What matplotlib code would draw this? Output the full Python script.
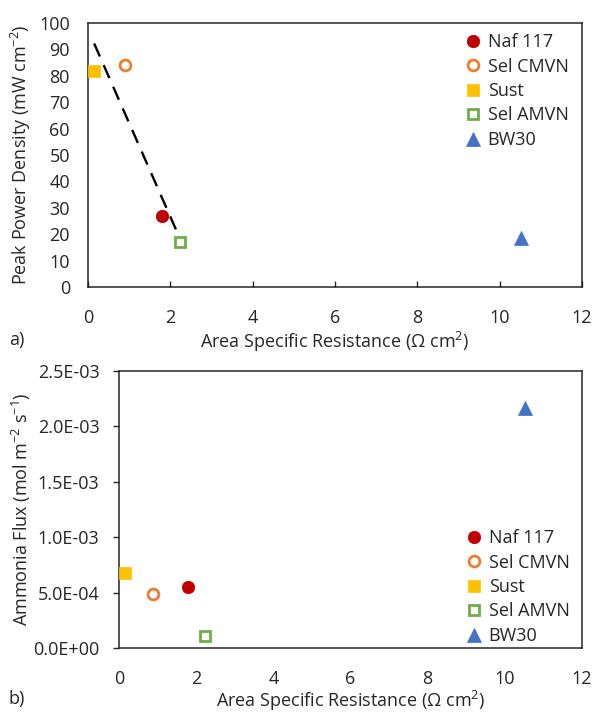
import numpy as np
import matplotlib
matplotlib.use("Agg")
import matplotlib.pyplot as plt
from matplotlib.ticker import FuncFormatter, MultipleLocator

plt.rcParams['font.family'] = ['Open Sans', 'DejaVu Sans']
plt.rcParams['mathtext.fontset'] = 'custom'
plt.rcParams['mathtext.rm'] = 'Open Sans'
plt.rcParams['mathtext.it'] = 'Open Sans:italic'
plt.rcParams['mathtext.bf'] = 'Open Sans:bold'

# ---- data ----
membranes = ["Naf 117", "Sel CMVN", "Sust", "Sel AMVN", "BW30"]
asr = [1.80, 0.89, 0.15, 2.24, 10.53]            # Ohm cm2
peak_power = [27, 84, 82, 17, 18.5]              # mW cm-2
ammonia_flux = [5.48e-4, 4.85e-4, 6.74e-4, 1.11e-4, 2.17e-3]  # mol m-2 s-1
trend_members = ["Naf 117", "Sel CMVN", "Sust", "Sel AMVN"]

colors = ["#C00000", "#ED7D31", "#FFC000", "#70AD47", "#4472C4"]
markers = ["o", "o", "s", "s", "^"]
filled = [True, False, True, False, True]

W, H = 593, 712
fig = plt.figure(figsize=(W / 100, H / 100), dpi=100)

def fx(px):
    return px / W

def fy(py):
    return 1 - py / H

ax1 = fig.add_axes([fx(88), fy(287), fx(582 - 88), (287 - 23) / H])
ax2 = fig.add_axes([fx(119), fy(648), fx(582 - 119), (648 - 371) / H])

fs = 13
text_color = "#262626"

def draw_points(ax, yvals):
    for name, x, y, c, m, f in zip(membranes, asr, yvals, colors, markers, filled):
        if f:
            ms = 9 if m == "o" else (9 if m == "s" else 9.5)
            ax.plot([x], [y], linestyle="none", marker=m, markersize=ms,
                    markerfacecolor=c, markeredgecolor=c, markeredgewidth=0.5,
                    label=name, zorder=3)
        else:
            ax.plot([x], [y], linestyle="none", marker=m, markersize=7.8,
                    markerfacecolor="white", markeredgecolor=c, markeredgewidth=2.0,
                    label=name, zorder=3)

# ---- top panel ----
draw_points(ax1, peak_power)
idx = [membranes.index(n) for n in trend_members]
tx = np.array([asr[i] for i in idx])
ty = np.array([peak_power[i] for i in idx])
k, b = np.polyfit(tx, ty, 1)
xl = np.array([tx.min(), tx.max()])
ax1.plot(xl, k * xl + b, linestyle=(0, (6, 4)), color="black", linewidth=1.7, zorder=2)

ax1.set_xlim(0, 12)
ax1.set_ylim(0, 100)
ax1.xaxis.set_major_locator(MultipleLocator(2))
ax1.yaxis.set_major_locator(MultipleLocator(10))
ax1.tick_params(axis="x", direction="in", length=4, width=1.0, labelsize=fs,
                colors=text_color, pad=16)
ax1.tick_params(axis="y", length=0, labelsize=fs, colors=text_color, pad=13)
ax1.set_xlabel("Area Specific Resistance (Ω cm$^{2}$)", fontsize=fs, color=text_color)
ax1.set_ylabel("Peak Power Density (mW cm$^{-2}$)", fontsize=fs, color=text_color)
ax1.xaxis.set_label_coords(0.5, (287 - 342) / 264)
ax1.xaxis.label.set_va("center")
ax1.yaxis.set_label_coords((21 - 88) / 494, 0.5)
ax1.yaxis.label.set_va("center")
ax1.legend(loc="upper left", bbox_to_anchor=((466 - 88) / 494, (287 - 33) / 264),
           frameon=False, fontsize=fs, handletextpad=0.4, labelspacing=0.36,
           borderaxespad=0, borderpad=0, handlelength=0.8, labelcolor=text_color)

# ---- bottom panel ----
draw_points(ax2, ammonia_flux)
ax2.set_xlim(0, 12)
ax2.set_ylim(0, 2.5e-3)
ax2.xaxis.set_major_locator(MultipleLocator(2))
ax2.yaxis.set_major_locator(MultipleLocator(5e-4))
ax2.yaxis.set_major_formatter(FuncFormatter(lambda v, p: f"{v:.1E}"))
ax2.tick_params(axis="x", length=0, labelsize=fs, colors=text_color, pad=16)
ax2.tick_params(axis="y", direction="out", length=4, width=1.0, labelsize=fs,
                colors=text_color, pad=10)
ax2.set_xlabel("Area Specific Resistance (Ω cm$^{2}$)", fontsize=fs, color=text_color)
ax2.set_ylabel("Ammonia Flux (mol m$^{-2}$ s$^{-1}$)", fontsize=fs, color=text_color)
ax2.xaxis.set_label_coords(0.5, (648 - 701) / 277)
ax2.xaxis.label.set_va("center")
ax2.yaxis.set_label_coords((21 - 119) / 463, 0.5)
ax2.yaxis.label.set_va("center")
ax2.legend(loc="upper left", bbox_to_anchor=((467 - 119) / 463, (648 - 529) / 277),
           frameon=False, fontsize=fs, handletextpad=0.4, labelspacing=0.36,
           borderaxespad=0, borderpad=0, handlelength=0.8, labelcolor=text_color)

for ax in (ax1, ax2):
    for s in ax.spines.values():
        s.set_color("#262626")
        s.set_linewidth(1.1)

fig.text(fx(9), fy(340), "a)", fontsize=fs, color=text_color, va="center", ha="left")
fig.text(fx(9), fy(699), "b)", fontsize=fs, color=text_color, va="center", ha="left")

fig.savefig("out.png", dpi=100)
